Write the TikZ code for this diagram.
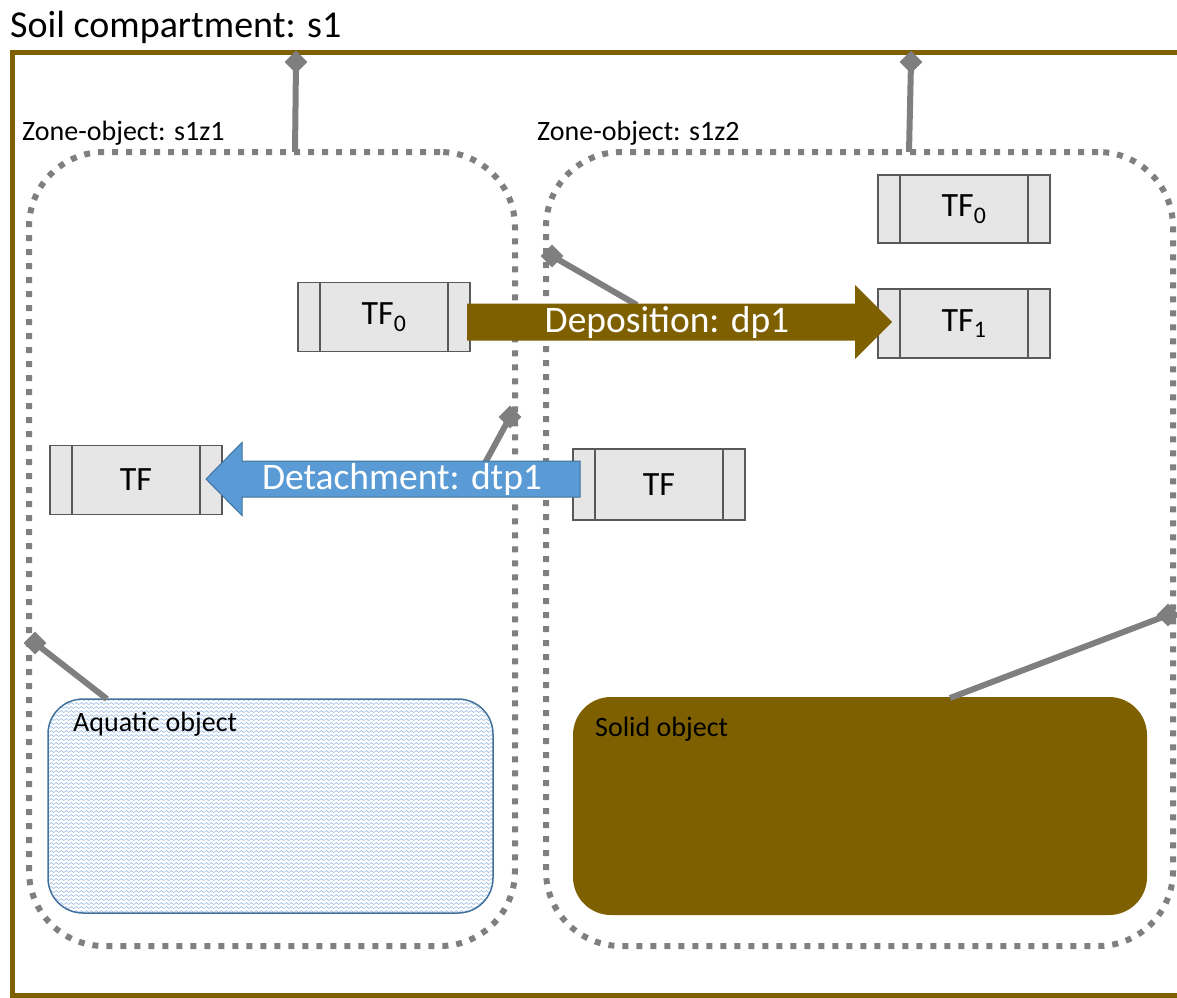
\documentclass[tikz,border=0pt]{standalone}
\usepackage{fontspec}
\setmainfont{Carlito}
\usetikzlibrary{calc,patterns}

\definecolor{soilbrown}{HTML}{7F6000}
\definecolor{linkgrey}{HTML}{7F7F7F}
\definecolor{tffill}{HTML}{E7E6E6}
\definecolor{tfedge}{HTML}{595959}
\definecolor{waterblue}{HTML}{5B9BD5}
\definecolor{wateredge}{HTML}{41719C}
\definecolor{wavelight}{HTML}{8EB4E3}

% fine wavy hatching for water bodies
\pgfdeclarepatternformonly{waterwaves}{\pgfqpoint{-1pt}{-1pt}}{\pgfqpoint{6pt}{5pt}}{\pgfqpoint{5pt}{4pt}}{
  \pgfsetlinewidth{0.55pt}
  \pgfpathmoveto{\pgfqpoint{0pt}{1.5pt}}
  \pgfpathlineto{\pgfqpoint{1.25pt}{2.5pt}}
  \pgfpathlineto{\pgfqpoint{3.75pt}{0.5pt}}
  \pgfpathlineto{\pgfqpoint{5pt}{1.5pt}}
  \pgfusepath{stroke}}

\begin{document}
\begin{tikzpicture}[x=1pt,y=-1pt,
  zone/.style={draw=linkgrey, line width=6pt, dash pattern=on 6pt off 8pt,
    rounded corners=75pt, rectangle, inner sep=0pt, outer sep=0pt},
  tfbox/.style={draw=tfedge, fill=tffill, line width=1.3pt, rectangle,
    minimum width=172pt, minimum height=69pt, inner sep=0pt, outer sep=0pt,
    font=\fontsize{34}{40}\selectfont,
    path picture={\draw[tfedge, line width=1.3pt]
      ([xshift=22pt]path picture bounding box.north west) -- ([xshift=22pt]path picture bounding box.south west)
      ([xshift=-22pt]path picture bounding box.north east) -- ([xshift=-22pt]path picture bounding box.south east);}},
  link/.style={draw=linkgrey, line width=6pt},
  linkend/.style={rectangle, fill=linkgrey, minimum size=16pt, inner sep=0pt, rotate=45},
  smalltext/.style={font=\fontsize{28}{32}\selectfont, inner sep=0pt, anchor=west},
  arrowtext/.style={font=\fontsize{37.5}{42}\selectfont, text=white, inner sep=0pt},
]
\useasboundingbox (0,0) rectangle (1177,997);

% title and compartment frame
\node[font=\fontsize{38}{44}\selectfont, inner sep=0pt, anchor=west] (title) at (10,27) {Soil compartment: s1};
\coordinate (frTR) at (1185,52);
\coordinate (frTL) at (12,52);
\coordinate (frBL) at (12,995.5);
\coordinate (frBR) at (1185,995.5);
\draw[soilbrown, line width=5pt] (frTR) -- (frTL) -- (frBL) -- (frBR);

% zone objects
\node[zone, minimum width=486pt, minimum height=794pt] (z1) at (272,549) {};
\node[zone, minimum width=627pt, minimum height=794pt] (z2) at (859.5,549) {};
\node[smalltext] (z1lab) at (22,133) {Zone-object: s1z1};
\node[smalltext] (z2lab) at (537,133) {Zone-object: s1z2};

% aquatic and solid objects
\node[rectangle, draw=wateredge, pattern=waterwaves, pattern color=wavelight, line width=1.5pt,
  rounded corners=35pt, minimum width=445pt, minimum height=214pt, inner sep=0pt, outer sep=0pt]
  (aq) at (270.5,806) {};
\node[smalltext] (aqlab) at ($(aq.north west)+(25,25)$) {Aquatic object};

\node[rectangle, fill=soilbrown, rounded corners=38pt, minimum width=574pt, minimum height=218pt,
  inner sep=0pt, outer sep=0pt] (solid) at (860,806) {};
\node[smalltext] (solidlab) at ($(solid.north west)+(22,32)$) {Solid object};

% transfer functions
\node[tfbox] (tfA) at (384,317) {TF\textsubscript{0}};
\node[tfbox, minimum height=68pt] (tfB) at (964,209) {TF\textsubscript{0}};
\node[tfbox] (tfC) at (964,323.5) {TF\textsubscript{1}};
\node[tfbox] (tfD) at (136,480) {TF};
\node[tfbox, minimum height=71pt] (tfE) at (659,484.5) {TF};

% links between objects (diamond marks the owning object)
\coordinate (s1a) at (296,62);
\coordinate (s1b) at (911,62);
\coordinate (z2l) at (552,256);
\coordinate (z1r) at (510,417);
\coordinate (z1l) at (35,643);
\coordinate (z2r) at (1168,615);
\draw[link] (z1.north -| 295,0) -- (s1a);
\draw[link] (z2.north -| 909,0) -- (s1b);
\draw[link] ($(aq.north west)+(59,0)$) -- (z1l);
\draw[link] ($(solid.north west)+(377,1)$) -- (z2r);

% deposition process
\coordinate (dpTail) at ($(tfA.east)+(-3,5)$);
\coordinate (dpTip) at ($(tfC.west)+(14,-1.5)$);
\draw[link] ($(dpTail)+(170,-17)$) -- (z2l);
\fill[soilbrown] ($(dpTail)+(0,-18.5)$) -- ($(dpTip)+(-37,-18.5)$) -- ($(dpTip)+(-37,-37)$) -- (dpTip)
  -- ($(dpTip)+(-37,37)$) -- ($(dpTip)+(-37,18.5)$) -- ($(dpTail)+(0,18.5)$) -- cycle;
\node[arrowtext] (dplab) at ($(dpTail)+(200,0)$) {Deposition: dp1};

% detachment process
\coordinate (dtTail) at ($(tfE.west)+(7,-5.5)$);
\coordinate (dtTip) at ($(tfD.east)+(-16,-1)$);
\draw[link] ($(dtTail)+(-95,-16)$) -- (z1r);
\draw[fill=waterblue, draw=wateredge, line width=1pt]
  ($(dtTail)+(0,-18)$) -- ($(dtTip)+(36,-18)$) -- ($(dtTip)+(36,-36.5)$) -- (dtTip)
  -- ($(dtTip)+(36,36.5)$) -- ($(dtTip)+(36,18)$) -- ($(dtTail)+(0,18)$) -- cycle;
\node[arrowtext] (dtlab) at ($(dtTail)+(-178,0)$) {Detachment: dtp1};

% diamond ends of the links
\foreach \c in {s1a,s1b,z2l,z1r,z1l,z2r}
  \node[linkend] (end-\c) at (\c) {};
\end{tikzpicture}
\end{document}
